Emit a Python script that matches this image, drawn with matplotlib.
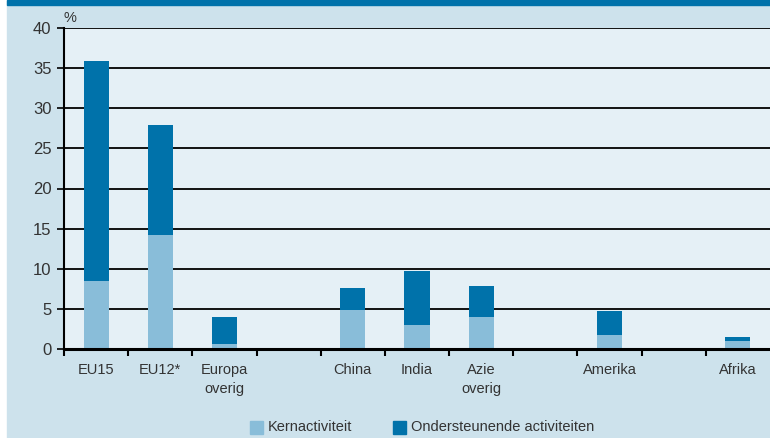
import matplotlib.pyplot as plt
from matplotlib.patches import Rectangle
import numpy as np

# slots: empty strings are gaps between region groups
categories = ['EU15', 'EU12*', 'Europa\noverig', '', 'China', 'India', 'Azie\noverig', '', 'Amerika', '', 'Afrika']
kern = [8.5, 14.2, 0.6, 0, 4.9, 3.0, 4.0, 0, 1.75, 0, 1.0]
ondersteunend = [27.4, 13.7, 3.4, 0, 2.7, 6.75, 3.9, 0, 2.95, 0, 0.5]
yticks = [0, 5, 10, 15, 20, 25, 30, 35, 40]

dark = '#0072aa'
light = '#89bdd9'
outer_bg = '#cde2ec'
inner_bg = '#e5f0f6'
txt = '#333333'

plt.rcParams['font.family'] = ['Liberation Sans', 'DejaVu Sans']

W, H = 770, 438
fig = plt.figure(figsize=(W / 100, H / 100), dpi=100)
fig.patch.set_facecolor('white')
fig.add_artist(Rectangle((7 / W, 0), 1, 1, transform=fig.transFigure, color=outer_bg, zorder=0))
fig.add_artist(Rectangle((7 / W, (H - 5) / H), 1, 5 / H, transform=fig.transFigure, color=dark, zorder=1))

ax = fig.add_axes([64 / W, (H - 349) / H, (W - 64) / W, (349 - 28) / H])
ax.set_facecolor(inner_bg)

x = np.arange(len(categories))
ax.bar(x, kern, width=0.39, color=light, zorder=3)
ax.bar(x, ondersteunend, bottom=kern, width=0.39, color=dark, zorder=3)

ax.set_xlim(-0.5, len(categories) - 0.5)
ax.set_ylim(0, 40)
ax.set_yticks(yticks)
ax.tick_params(axis='y', length=5, width=1.2, colors='black', labelcolor=txt, labelsize=12, pad=4)
ax.yaxis.grid(True, color='black', linewidth=1.3, zorder=1)
ax.set_axisbelow(True)

ax.set_xticks(x)
ax.set_xticklabels(categories, color=txt, fontsize=10.5, linespacing=1.5)
ax.tick_params(axis='x', which='major', length=0, pad=10)
ax.set_xticks(np.arange(len(categories)) - 0.5, minor=True)
ax.tick_params(axis='x', which='minor', length=5, width=1.5, color='black')

for s in ['top', 'right']:
    ax.spines[s].set_visible(False)
ax.spines['left'].set_linewidth(1.5)
ax.spines['bottom'].set_linewidth(2.2)
ax.spines['bottom'].set_zorder(4)

fig.text(64 / W, (H - 18) / H, '%', fontsize=10.5, color=txt, va='center')

# legend
lx = [250, 393]
labels = ['Kernactiviteit', 'Ondersteunende activiteiten']
for px, col, lab in zip(lx, [light, dark], labels):
    fig.add_artist(Rectangle((px / W, (H - 434) / H), 13 / W, 13 / H, transform=fig.transFigure, color=col))
    fig.text((px + 18) / W, (H - 427) / H, lab, fontsize=10.5, color=txt, va='center')

fig.savefig('out.png', dpi=100, facecolor=fig.get_facecolor())
